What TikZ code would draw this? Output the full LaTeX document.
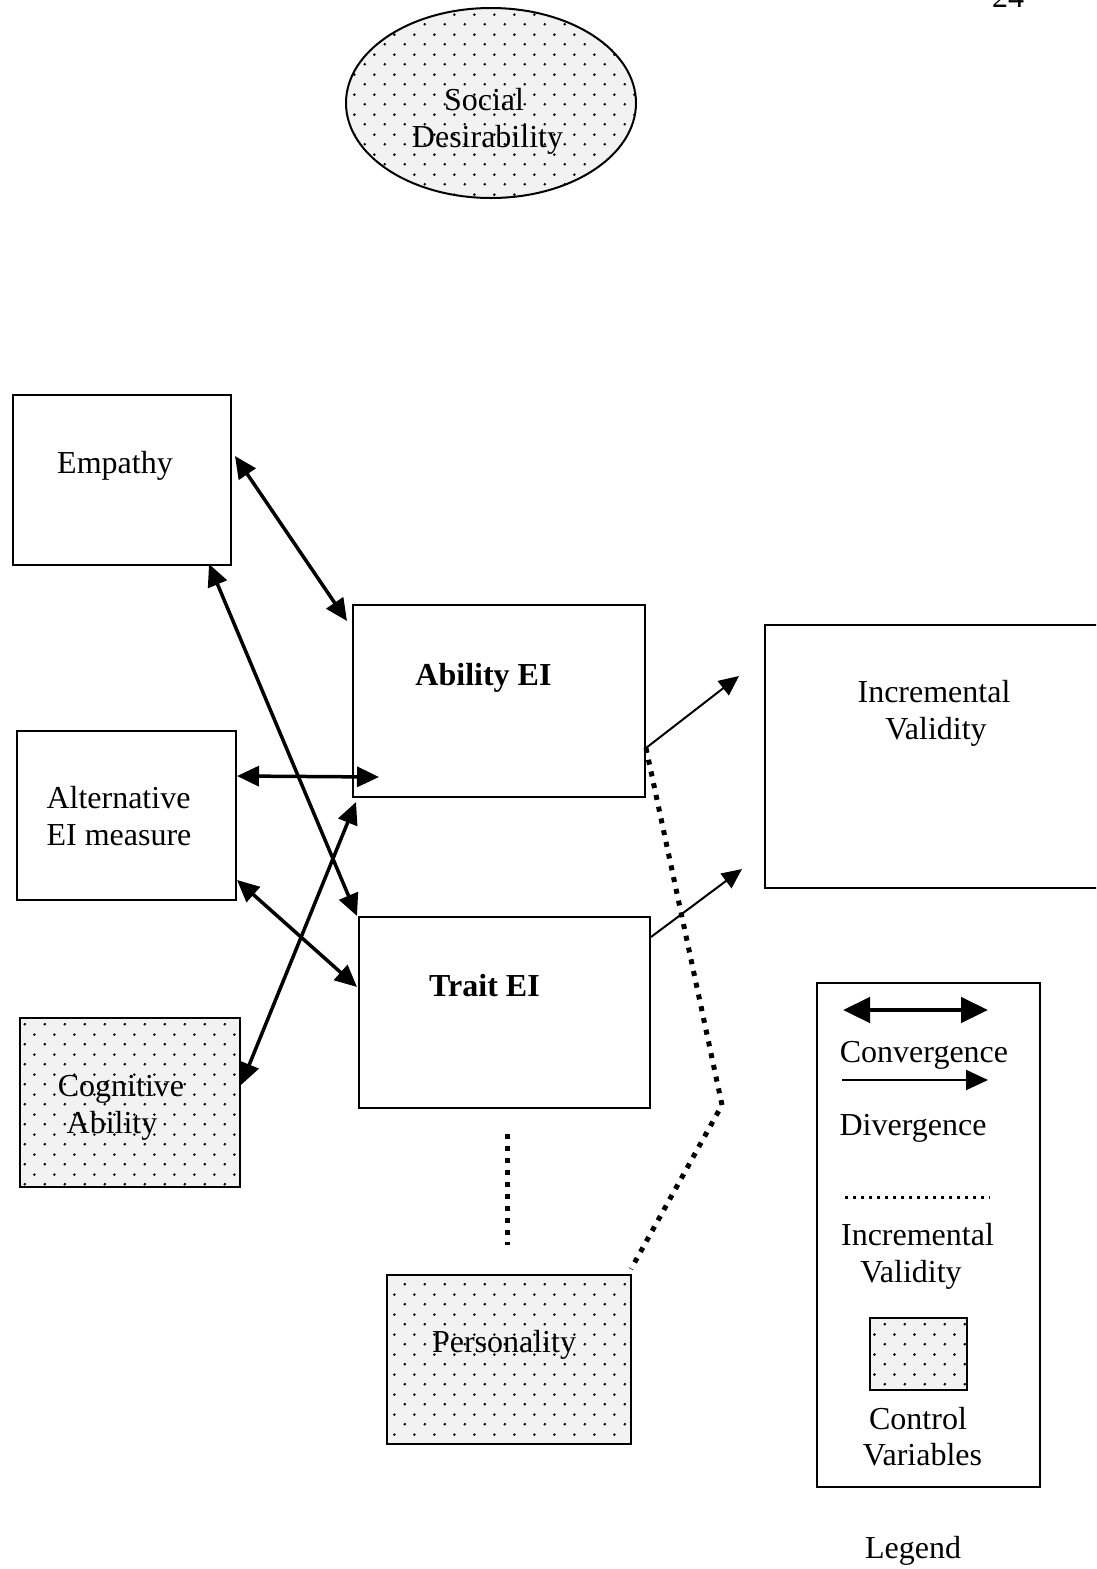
\documentclass[tikz,border=0pt]{standalone}
\usepackage{fontspec}
\setmainfont{Liberation Serif}
\usetikzlibrary{arrows.meta,patterns.meta,shapes.geometric}

\pgfdeclarepattern{
  name=sparsedots,
  type=uncolored,
  bottom left={\pgfpoint{0pt}{0pt}},
  top right={\pgfpoint{20pt}{20pt}},
  tile size={\pgfpoint{20pt}{20pt}},
  code={
    \pgfpathcircle{\pgfpoint{5pt}{5pt}}{1.5pt}
    \pgfpathcircle{\pgfpoint{15pt}{15pt}}{1.5pt}
    \pgfusepath{fill}
  }
}

\begin{document}
\begin{tikzpicture}[x=1pt,y=-1pt, font=\fontsize{32}{38}\selectfont,
  box/.style={draw, line width=2pt, inner sep=0pt},
  dotbox/.style={box, preaction={fill=black!5}, pattern=sparsedots, pattern color=black},
  lbl/.style={anchor=base, inner sep=0pt},
  conv/.style={{Triangle[length=22pt,width=20pt]}-{Triangle[length=22pt,width=20pt]}, line width=3.5pt},
  div/.style={-{Triangle[length=20pt,width=18pt]}, line width=2pt},
  ivdots/.style={line width=5pt, dash pattern=on 5pt off 7pt},
  legconv/.style={{Triangle[length=27pt,width=25pt]}-{Triangle[length=27pt,width=25pt]}, line width=4.5pt},
  legdiv/.style={-{Triangle[length=22pt,width=20pt]}, line width=2pt},
  legdots/.style={line width=3pt, dash pattern=on 3pt off 5pt},
]
\clip (0,0) rectangle (1096,1569);
\fill[white] (0,0) rectangle (1096,1569);

% page number (cut off)
\node[lbl] (pg) at (1008,7) {24};

% Social desirability
\node[ellipse, dotbox, minimum width=290pt, minimum height=190pt] (sd) at (491,103) {};
\node[lbl] (sdt1) at (484,110) {Social};
\node[lbl] (sdt2) at (487.5,147) {Desirability};

% boxes
\node[box, minimum width=218pt, minimum height=170pt] (emp) at (122,480) {};
\node[lbl] (empt) at (115,473) {Empathy};

\node[box, minimum width=292pt, minimum height=192pt] (abil) at (499,701) {};
\node[lbl, font=\fontsize{32}{38}\selectfont\bfseries] (abilt) at (483.5,685) {Ability EI};

\node[box, minimum width=345pt, minimum height=263pt] (incv) at (937.5,756.5) {};
\node[lbl] (incvt1) at (934,702) {Incremental};
\node[lbl] (incvt2) at (936,739) {Validity};

\node[box, minimum width=219pt, minimum height=169pt] (alt) at (126.5,815.5) {};
\node[lbl] (altt1) at (118.5,808) {Alternative};
\node[lbl] (altt2) at (119,845) {EI measure};

\node[box, minimum width=291pt, minimum height=191pt] (trait) at (504.5,1012.5) {};
\node[lbl, font=\fontsize{32}{38}\selectfont\bfseries] (traitt) at (484.5,996) {Trait EI};

\node[dotbox, minimum width=220pt, minimum height=169pt] (cog) at (130,1102.5) {};
\node[lbl] (cogt1) at (121,1096) {Cognitive};
\node[lbl] (cogt2) at (112,1133) {Ability};

\node[dotbox, minimum width=244pt, minimum height=169pt] (pers) at (509,1359.5) {};
\node[lbl] (perst) at (504,1352) {Personality};

% convergence arrows
\draw[conv] ([shift={(3,-24)}]emp.east) -- ([shift={(-5,17)}]abil.north west);
\draw[conv] ([shift={(-23,-2)}]emp.south east) -- ([shift={(-1,0)}]trait.north west);
\draw[conv] ([shift={(0,-39.5)}]alt.east) -- ([shift={(27,-21)}]abil.south west);
\draw[conv] ([shift={(0,-21)}]alt.south east) -- ([shift={(-1,-25.5)}]trait.west);
\draw[conv] ([shift={(0,-17.5)}]cog.east) -- ([shift={(4,4)}]abil.south west);

% divergence arrows
\draw[div] ([shift={(0,47)}]abil.east) -- ([shift={(-25,-80.5)}]incv.west);
\draw[div] ([shift={(0,21)}]trait.north east) -- ([shift={(-22,-20)}]incv.south west);

% incremental validity dotted lines
\coordinate (bend) at (722,1105);
\draw[ivdots] ([shift={(0,47)}]abil.east) -- (bend) -- ([shift={(-1,-5)}]pers.north east);
\draw[ivdots] ([shift={(2.5,25)}]trait.south) -- ([shift={(-2,-29)}]pers.north);

% legend
\node[box, minimum width=223pt, minimum height=504pt] (leg) at (928.5,1235) {};
\coordinate (lc1) at (843,1010);
\coordinate (lc2) at (988,1010);
\draw[legconv] (lc1) -- (lc2);
\node[lbl] (lt1) at (924,1062) {Convergence};
\coordinate (ld1) at (842,1080);
\coordinate (ld2) at (988,1080);
\draw[legdiv] (ld1) -- (ld2);
\node[lbl] (lt2) at (913,1135) {Divergence};
\coordinate (li1) at (845,1197);
\coordinate (li2) at (990,1197);
\draw[legdots] (li1) -- (li2);
\node[lbl] (lt3) at (917.5,1245) {Incremental};
\node[lbl] (lt4) at (911,1282) {Validity};
\node[dotbox, minimum width=97pt, minimum height=72pt] (lsq) at (918.5,1354) {};
\node[lbl] (lt5) at (918,1429) {Control};
\node[lbl] (lt6) at (922.5,1465) {Variables};
\node[lbl] (lt7) at (913,1558) {Legend};
\end{tikzpicture}
\end{document}
